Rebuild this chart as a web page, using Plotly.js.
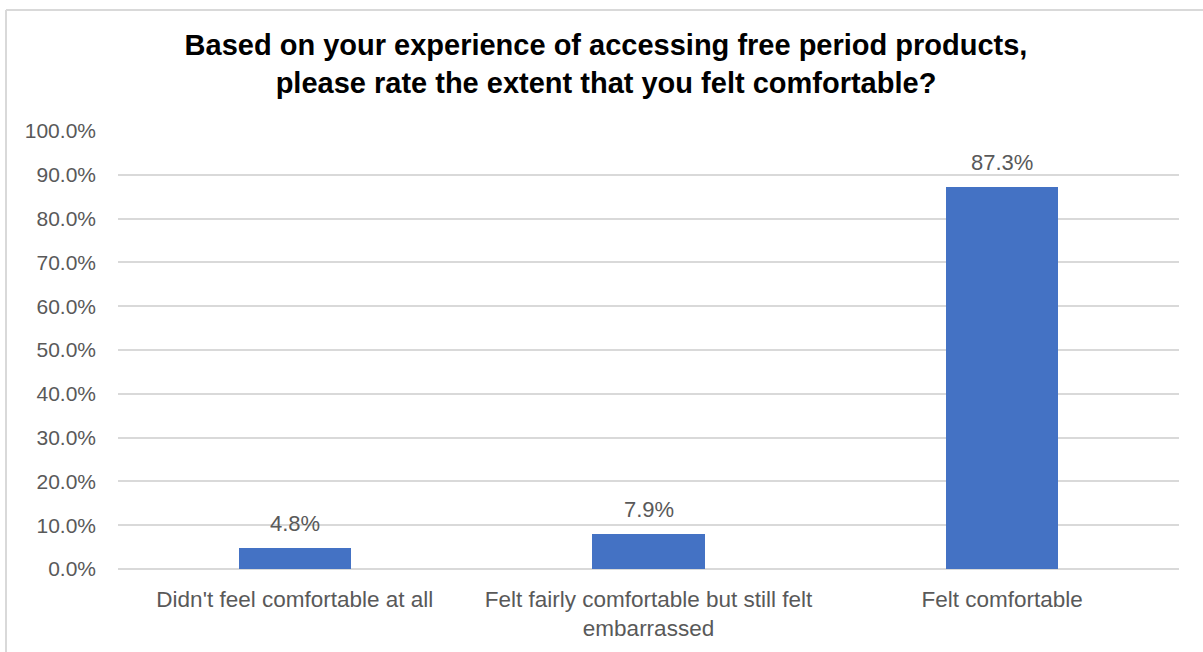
<!DOCTYPE html>
<html>
<head>
<meta charset="utf-8">
<script src="https://cdn.plot.ly/plotly-3.0.1.min.js"></script>
<style>
html,body{margin:0;padding:0;background:#fff;}
#chart{width:1203px;height:652px;}
</style>
</head>
<body>
<div id="chart"></div>
<script>
const categories = [
  "Didn't feel comfortable at all",
  "Felt fairly comfortable but still felt<br>embarrassed",
  "Felt comfortable"
];
const values = [0.048, 0.079, 0.873];
const valueLabels = ["4.8%", "7.9%", "87.3%"];
const titleText = "Based on your experience of accessing free period products,<br>please rate the extent that you felt comfortable?";

const trace = {
  type: 'bar',
  x: categories,
  y: values,
  width: 0.317,
  marker: {color: '#4472C4'},
  hoverinfo: 'x+y'
};

const annotations = categories.map((c, i) => ({
  x: c, y: values[i], xref: 'x', yref: 'y',
  text: valueLabels[i], showarrow: false,
  yanchor: 'bottom', yshift: 10,
  font: {family: 'Liberation Sans, Arial, sans-serif', size: 22, color: '#595959'}
}));

const layout = {
  width: 1203, height: 652,
  margin: {l: 118, r: 24, t: 131, b: 83},
  paper_bgcolor: '#fff', plot_bgcolor: '#fff',
  showlegend: false,
  bargap: 0,
  title: {
    text: titleText,
    xref: 'container', yref: 'container',
    x: 606/1203, xanchor: 'center',
    y: 1 - 55/652, yanchor: 'middle',
    font: {family: 'Liberation Sans, Arial, sans-serif', size: 29, color: '#000', weight: 'bold'}
  },
  xaxis: {
    type: 'category',
    showgrid: false, showline: false, zeroline: false,
    ticks: '', ticklabelstandoff: 14,
    tickfont: {family: 'Liberation Sans, Arial, sans-serif', size: 22.5, color: '#595959'}
  },
  yaxis: {
    range: [0, 1],
    tickvals: [0,0.1,0.2,0.3,0.4,0.5,0.6,0.7,0.8,0.9,1.0],
    tickformat: '.1%',
    showgrid: true, gridcolor: '#d9d9d9', gridwidth: 1.5,
    zeroline: true, zerolinecolor: '#d9d9d9', zerolinewidth: 1.5,
    showline: false, ticks: '', ticklabelstandoff: 21,
    tickfont: {family: 'Liberation Sans, Arial, sans-serif', size: 21, color: '#595959'}
  },
  annotations: annotations,
  shapes: [
    {type: 'line', xref: 'paper', yref: 'paper',
     x0: (6-118)/1061, x1: (1203-118)/1061,
     y0: (569-10)/438, y1: (569-10)/438,
     line: {color: '#d9d9d9', width: 2}},
    {type: 'line', xref: 'paper', yref: 'paper',
     x0: (6-118)/1061, x1: (6-118)/1061,
     y0: (569-10)/438, y1: (569-660)/438,
     line: {color: '#d9d9d9', width: 2}}
  ]
};

Plotly.newPlot('chart', [trace], layout, {displayModeBar: false, responsive: false});
</script>
</body>
</html>
